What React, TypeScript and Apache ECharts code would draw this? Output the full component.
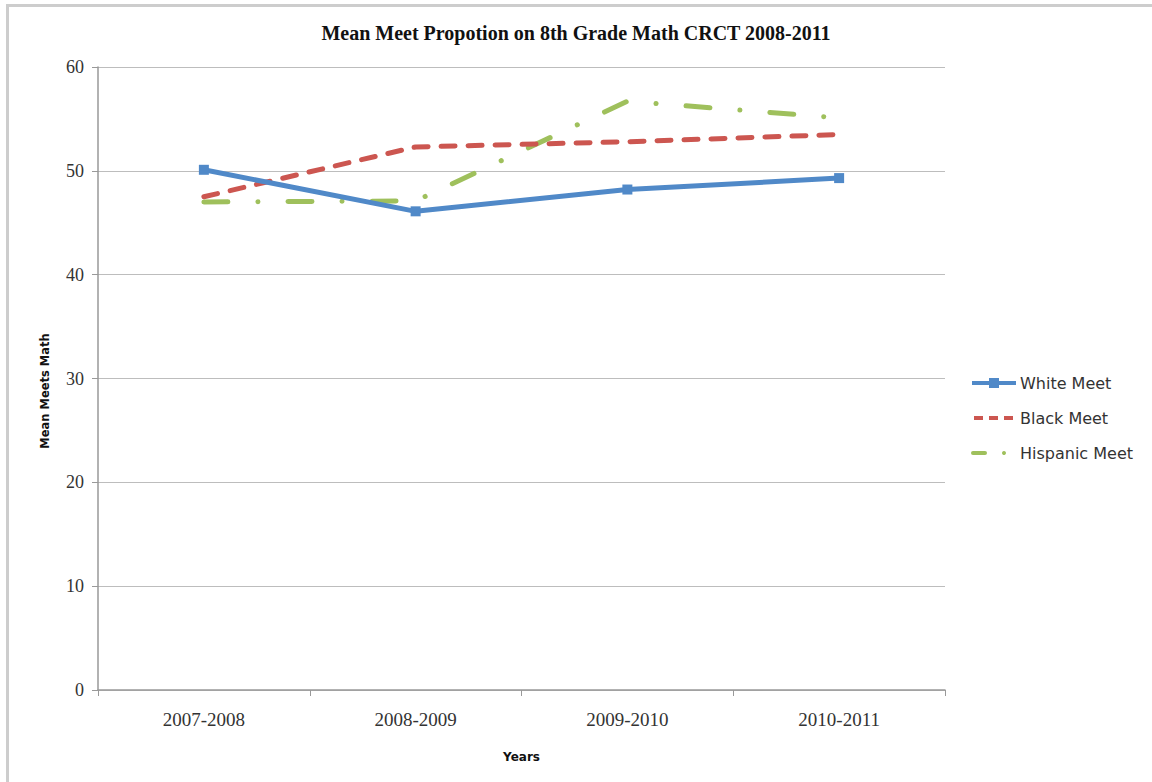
import React, { useEffect, useRef } from "react";
import * as echarts from "echarts";

const years = ["2007-2008", "2008-2009", "2009-2010", "2010-2011"];
const whiteMeet = [50.1, 46.1, 48.2, 49.3];
const blackMeet = [47.5, 52.3, 52.8, 53.5];
const hispanicMeet = [47.0, 47.1, 56.7, 55.1];
const seriesNames = ["White Meet", "Black Meet", "Hispanic Meet"];

const BLUE = "#5089c8";
const RED = "#cc5650";
const GREEN = "#9fc05c";

export default function App() {
  const ref = useRef<HTMLDivElement>(null);

  useEffect(() => {
    document.body.style.margin = "0";
    const chart = echarts.init(ref.current!, null, { renderer: "svg" });
    const serif = "'Liberation Serif', 'Times New Roman', serif";
    const sans = "'DejaVu Sans', sans-serif";

    // Legend drawn by hand so the keys show the dash patterns at full weight
    const legendX = 972;
    const legendRows = [383, 418, 453];
    const legendText = (i: number) => ({
      type: "text",
      x: 1020,
      y: legendRows[i],
      style: {
        text: seriesNames[i],
        fontFamily: sans,
        fontSize: 16,
        fill: "#333",
        verticalAlign: "middle",
        align: "left",
      },
    });
    const legendGraphics = [
      {
        type: "line",
        shape: { x1: legendX, y1: legendRows[0], x2: legendX + 44, y2: legendRows[0] },
        style: { stroke: BLUE, lineWidth: 4 },
      },
      {
        type: "rect",
        shape: { x: legendX + 17, y: legendRows[0] - 5, width: 10, height: 10 },
        style: { fill: BLUE },
      },
      legendText(0),
      {
        type: "line",
        shape: { x1: legendX + 2, y1: legendRows[1], x2: legendX + 44, y2: legendRows[1] },
        style: { stroke: RED, lineWidth: 4, lineDash: [9, 6], lineCap: "butt" },
      },
      legendText(1),
      {
        type: "line",
        shape: { x1: legendX + 1, y1: legendRows[2], x2: legendX + 13, y2: legendRows[2] },
        style: { stroke: GREEN, lineWidth: 4, lineCap: "round" },
      },
      {
        type: "circle",
        shape: { cx: legendX + 32, cy: legendRows[2], r: 2 },
        style: { fill: GREEN },
      },
      legendText(2),
    ];

    chart.setOption({
      animation: false,
      backgroundColor: "#ffffff",
      title: {
        text: "Mean Meet Propotion on 8th Grade Math CRCT 2008-2011",
        left: "center",
        top: 23,
        padding: 0,
        textStyle: { fontFamily: serif, fontSize: 20, fontWeight: "bold", color: "#111" },
      },
      graphic: [
        {
          type: "rect",
          shape: { x: 7.5, y: 5.5, width: 1200, height: 820 },
          style: { fill: "none", stroke: "#cdcdcd", lineWidth: 3 },
          silent: true,
        },
        {
          type: "text",
          x: 45,
          y: 391,
          rotation: Math.PI / 2,
          style: {
            text: "Mean Meets Math",
            fontFamily: sans,
            fontSize: 11.5,
            fontWeight: "bold",
            fill: "#111",
            align: "center",
            verticalAlign: "middle",
          },
        },
        ...legendGraphics,
      ],
      grid: { left: 98, right: 207, top: 67, bottom: 92, containLabel: false },
      xAxis: {
        type: "category",
        data: years,
        boundaryGap: true,
        name: "Years",
        nameLocation: "middle",
        nameGap: 61,
        nameTextStyle: { fontFamily: sans, fontSize: 12, fontWeight: "bold", color: "#111" },
        axisLine: { lineStyle: { color: "#999", width: 1.5 } },
        axisTick: { show: true, length: 6, lineStyle: { color: "#999" } },
        axisLabel: { fontFamily: serif, fontSize: 19, color: "#333", margin: 20 },
      },
      yAxis: {
        type: "value",
        min: 0,
        max: 60,
        interval: 10,
        axisLine: { show: true, lineStyle: { color: "#999", width: 1.5 } },
        axisTick: { show: true, length: 6, lineStyle: { color: "#999" } },
        axisLabel: { fontFamily: serif, fontSize: 18, color: "#333", margin: 14 },
        splitLine: { lineStyle: { color: "#bdbdbd", width: 1.2 } },
      },
      series: [
        {
          name: seriesNames[0],
          type: "line",
          data: whiteMeet,
          symbol: "rect",
          symbolSize: 10,
          itemStyle: { color: BLUE },
          lineStyle: { color: BLUE, width: 5 },
          z: 3,
        },
        {
          name: seriesNames[1],
          type: "line",
          data: blackMeet,
          symbol: "none",
          itemStyle: { color: RED },
          lineStyle: { color: RED, width: 5, type: [14, 13], cap: "round" },
          z: 2,
        },
        {
          name: seriesNames[2],
          type: "line",
          data: hispanicMeet,
          symbol: "none",
          itemStyle: { color: GREEN },
          lineStyle: { color: GREEN, width: 5, type: [24, 30, 0.1, 30], cap: "round" },
          z: 1,
        },
      ],
    });
    return () => chart.dispose();
  }, []);

  return (
    <div
      ref={ref}
      style={{ position: "absolute", left: 0, top: 0, width: 1152, height: 782 }}
    />
  );
}
